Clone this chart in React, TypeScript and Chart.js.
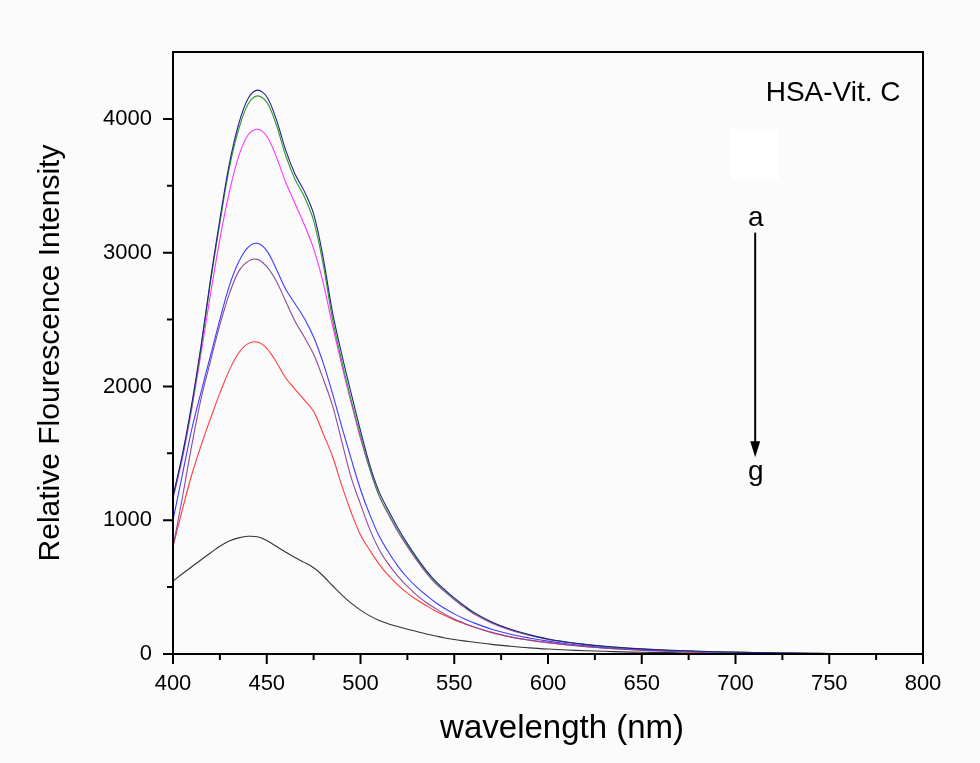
import React, { useEffect, useRef } from "react";
import { Chart, registerables } from "chart.js";

Chart.register(...registerables);

// ---------- data ----------
const wavelengths = [
  400, 405, 410, 415, 420, 425, 430, 435, 440, 445, 450, 455, 460, 465, 470, 475, 480, 485, 490, 495,
  500, 505, 510, 515, 520, 525, 530, 535, 540, 545, 550, 555, 560,
  570, 580, 590, 600, 610, 620, 630, 640, 650, 660, 670, 680, 690, 700, 710, 720, 730, 740, 750,
];

const seriesA = [
  1180, 1490, 1870, 2310, 2800, 3250, 3660, 3960, 4150, 4215, 4165, 4000, 3770, 3590, 3460, 3290, 2970, 2560, 2240, 1950,
  1670, 1410, 1210, 1070, 940, 825, 720, 625, 545, 480, 420, 365, 315,
  240, 185, 145, 112, 90, 72, 58, 47, 38, 31, 26, 21, 17, 14, 11, 9, 7, 5, 4,
];
const seriesB = [
  1170, 1480, 1850, 2290, 2780, 3220, 3630, 3920, 4110, 4172, 4125, 3960, 3730, 3550, 3420, 3240, 2920, 2510, 2190, 1900,
  1630, 1380, 1180, 1045, 920, 808, 705, 612, 532, 470, 410, 358, 308,
  235, 182, 142, 110, 88, 70, 57, 46, 37, 30, 25, 20, 16, 13, 11, 9, 7, 5, 4,
];
const seriesC = [
  1160, 1460, 1830, 2250, 2690, 3100, 3450, 3720, 3880, 3922, 3870, 3720, 3530, 3370, 3210, 3030, 2780, 2460, 2160, 1880,
  1610, 1380, 1180, 1040, 912, 800, 700, 606, 526, 465, 405, 352, 302,
  230, 178, 140, 108, 86, 69, 56, 45, 36, 29, 24, 19, 15, 12, 10, 8, 6, 5, 3,
];
const seriesD = [
  1000, 1340, 1680, 1960, 2230, 2500, 2750, 2930, 3040, 3070, 3015, 2880, 2730, 2620, 2510, 2370, 2180, 1950, 1700, 1460,
  1230, 1040, 880, 760, 655, 570, 500, 440, 385, 340, 300, 265, 235,
  185, 148, 120, 96, 77, 62, 50, 40, 32, 26, 21, 17, 14, 11, 9, 7, 6, 4, 3,
];
const seriesE = [
  800, 1170, 1560, 1910, 2190, 2460, 2690, 2860, 2935, 2950, 2895, 2790, 2640, 2490, 2370, 2240, 2060, 1860, 1590, 1320,
  1120, 930, 780, 670, 580, 505, 440, 385, 340, 298, 262, 232, 205,
  160, 128, 104, 84, 67, 54, 44, 35, 28, 23, 19, 15, 12, 10, 8, 6, 5, 4, 3,
];
const seriesF = [
  800, 1080, 1340, 1560, 1760, 1950, 2120, 2250, 2320, 2332, 2285, 2185, 2065, 1980, 1900, 1815, 1650, 1480, 1260, 1060,
  890, 775, 670, 585, 515, 455, 405, 362, 322, 288, 255, 228, 203,
  162, 128, 104, 85, 69, 56, 45, 36, 29, 23, 18, 14, 11, 9, 7, 6, 5, 4, 3,
];
const seriesG = [
  545, 600, 652, 705, 755, 805, 845, 868, 880, 876, 848, 805, 762, 722, 685, 645, 585, 512, 442, 380,
  328, 285, 250, 225, 205, 185, 168, 150, 135, 120, 108, 98, 90,
  72, 58, 46, 37, 30, 24, 20, 16, 13, 11, 9, 7, 6, 5, 4, 4, 3, 3, 2,
];

const seriesList = [seriesA, seriesB, seriesC, seriesD, seriesE, seriesF, seriesG];
const seriesLabels = ["a", "b", "c", "d", "e", "f", "g"];
const seriesColors = ["#22228a", "#2e9a2e", "#ff33ff", "#3c3cff", "#8e4a9a", "#ff3a3a", "#333333"];

const xMin = 400;
const xMax = 800;
const xMajorStep = 50;
const yMin = 0;
const yMax = 4500;
const yMinorStep = 500;
const yMajorStep = 1000;

const xTitle = "wavelength (nm)";
const yTitle = "Relative Flourescence Intensity";
const sampleTitle = "HSA-Vit. C";
const arrowTopLabel = "a";
const arrowBottomLabel = "g";

const FONT = "'Liberation Sans', Arial, Helvetica, sans-serif";

// ---------- plugin ----------
const framePlugin = {
  id: "frame",
  beforeDraw(chart: any) {
    const ctx = chart.ctx;
    ctx.save();
    ctx.fillStyle = "#fcfbfb";
    ctx.fillRect(0, 0, chart.width, chart.height);
    ctx.restore();
  },
  beforeDatasetsDraw(chart: any) {
    const { ctx, scales } = chart;
    const x = scales.x;
    const y = scales.y;
    ctx.save();
    ctx.fillStyle = "#ffffff";
    const x0 = x.getPixelForValue(697.6);
    const x1 = x.getPixelForValue(723.2);
    const y0 = y.getPixelForValue(3925);
    const y1 = y.getPixelForValue(3552);
    ctx.fillRect(x0, y0, x1 - x0, y1 - y0);
    ctx.restore();
  },
  afterDatasetsDraw(chart: any) {
    const { ctx, chartArea, scales } = chart;
    const x = scales.x;
    const y = scales.y;
    const { left, right, top, bottom } = chartArea;
    ctx.save();
    ctx.strokeStyle = "#000";
    ctx.lineWidth = 2;
    ctx.strokeRect(left, top, right - left, bottom - top);

    const major = 10;
    const minor = 6;
    ctx.beginPath();
    const xt = x.ticks.map((t: any) => t.value);
    xt.forEach((v: number, i: number) => {
      const px = x.getPixelForValue(v);
      ctx.moveTo(px, bottom);
      ctx.lineTo(px, bottom + major);
      if (i < xt.length - 1) {
        const m = x.getPixelForValue((v + xt[i + 1]) / 2);
        ctx.moveTo(m, bottom);
        ctx.lineTo(m, bottom + minor);
      }
    });
    const yt = y.ticks.map((t: any) => t.value);
    yt.forEach((v: number) => {
      const py = y.getPixelForValue(v);
      ctx.moveTo(left, py);
      ctx.lineTo(left - major, py);
      const mv = v + yMinorStep;
      if (mv < yMax) {
        const m = y.getPixelForValue(mv);
        ctx.moveTo(left, m);
        ctx.lineTo(left - minor, m);
      }
    });
    ctx.stroke();

    // x axis title
    ctx.fillStyle = "#000";
    ctx.font = `33px ${FONT}`;
    ctx.textAlign = "center";
    ctx.textBaseline = "alphabetic";
    ctx.fillText(xTitle, x.getPixelForValue(607.5), bottom + 84);

    // annotations
    ctx.font = `28px ${FONT}`;
    ctx.textAlign = "right";
    ctx.fillText(sampleTitle, x.getPixelForValue(788), y.getPixelForValue(4134));

    ctx.textAlign = "center";
    const ax = x.getPixelForValue(710.8);
    ctx.fillText(arrowTopLabel, ax, y.getPixelForValue(3200));
    ctx.fillText(arrowBottomLabel, ax, y.getPixelForValue(1300));

    const lx = x.getPixelForValue(710.5);
    const ay0 = y.getPixelForValue(3150);
    const ay1 = y.getPixelForValue(1470);
    ctx.lineWidth = 2;
    ctx.beginPath();
    ctx.moveTo(lx, ay0);
    ctx.lineTo(lx, ay1 - 12);
    ctx.stroke();
    ctx.beginPath();
    ctx.moveTo(lx, ay1);
    ctx.lineTo(lx - 5, ay1 - 16);
    ctx.lineTo(lx + 5, ay1 - 16);
    ctx.closePath();
    ctx.fill();
    ctx.restore();
  },
};

export default function App() {
  const canvasRef = useRef<HTMLCanvasElement | null>(null);

  useEffect(() => {
    if (!canvasRef.current) return;
    const datasets = seriesList.map((s, i) => ({
      label: seriesLabels[i],
      data: wavelengths.map((w, j) => ({ x: w, y: s[j] })),
      borderColor: seriesColors[i],
      backgroundColor: seriesColors[i],
      borderWidth: 1.1,
      pointRadius: 0,
      fill: false,
      tension: 0.35,
    }));

    const chart = new Chart(canvasRef.current, {
      type: "line",
      data: { datasets },
      options: {
        animation: false,
        responsive: false,
        maintainAspectRatio: false,
        layout: { padding: { left: 33, right: 57, top: 52, bottom: 17 } },
        plugins: {
          legend: { display: false },
          tooltip: { enabled: false },
        },
        scales: {
          x: {
            type: "linear",
            min: xMin,
            max: xMax,
            grid: { display: false, drawTicks: false },
            border: { display: false },
            ticks: {
              stepSize: xMajorStep,
              padding: 17,
              color: "#000",
              font: { family: FONT, size: 22 },
              maxRotation: 0,
              callback: (v: any) => String(v),
            },
            title: { display: false },
            afterFit: (scale: any) => {
              scale.height = 92;
            },
          },
          y: {
            type: "linear",
            min: yMin,
            max: yMax,
            grid: { display: false, drawTicks: false },
            border: { display: false },
            ticks: {
              stepSize: yMinorStep,
              padding: 21,
              color: "#000",
              font: { family: FONT, size: 22 },
              callback: (v: any) => String(v),
            },
            afterBuildTicks: (scale: any) => {
              scale.ticks = scale.ticks.filter((t: any) => t.value % yMajorStep === 0);
            },
            title: {
              display: true,
              text: yTitle,
              color: "#000",
              font: { family: FONT, size: 30 },
              padding: 0,
            },
            afterFit: (scale: any) => {
              scale.width = 140;
            },
          },
        },
      },
      plugins: [framePlugin],
    });
    return () => chart.destroy();
  }, []);

  return (
    <div style={{ position: "fixed", left: 0, top: 0, width: 980, height: 763 }}>
      <canvas ref={canvasRef} width={980} height={763} style={{ width: 980, height: 763, display: "block" }} />
    </div>
  );
}
